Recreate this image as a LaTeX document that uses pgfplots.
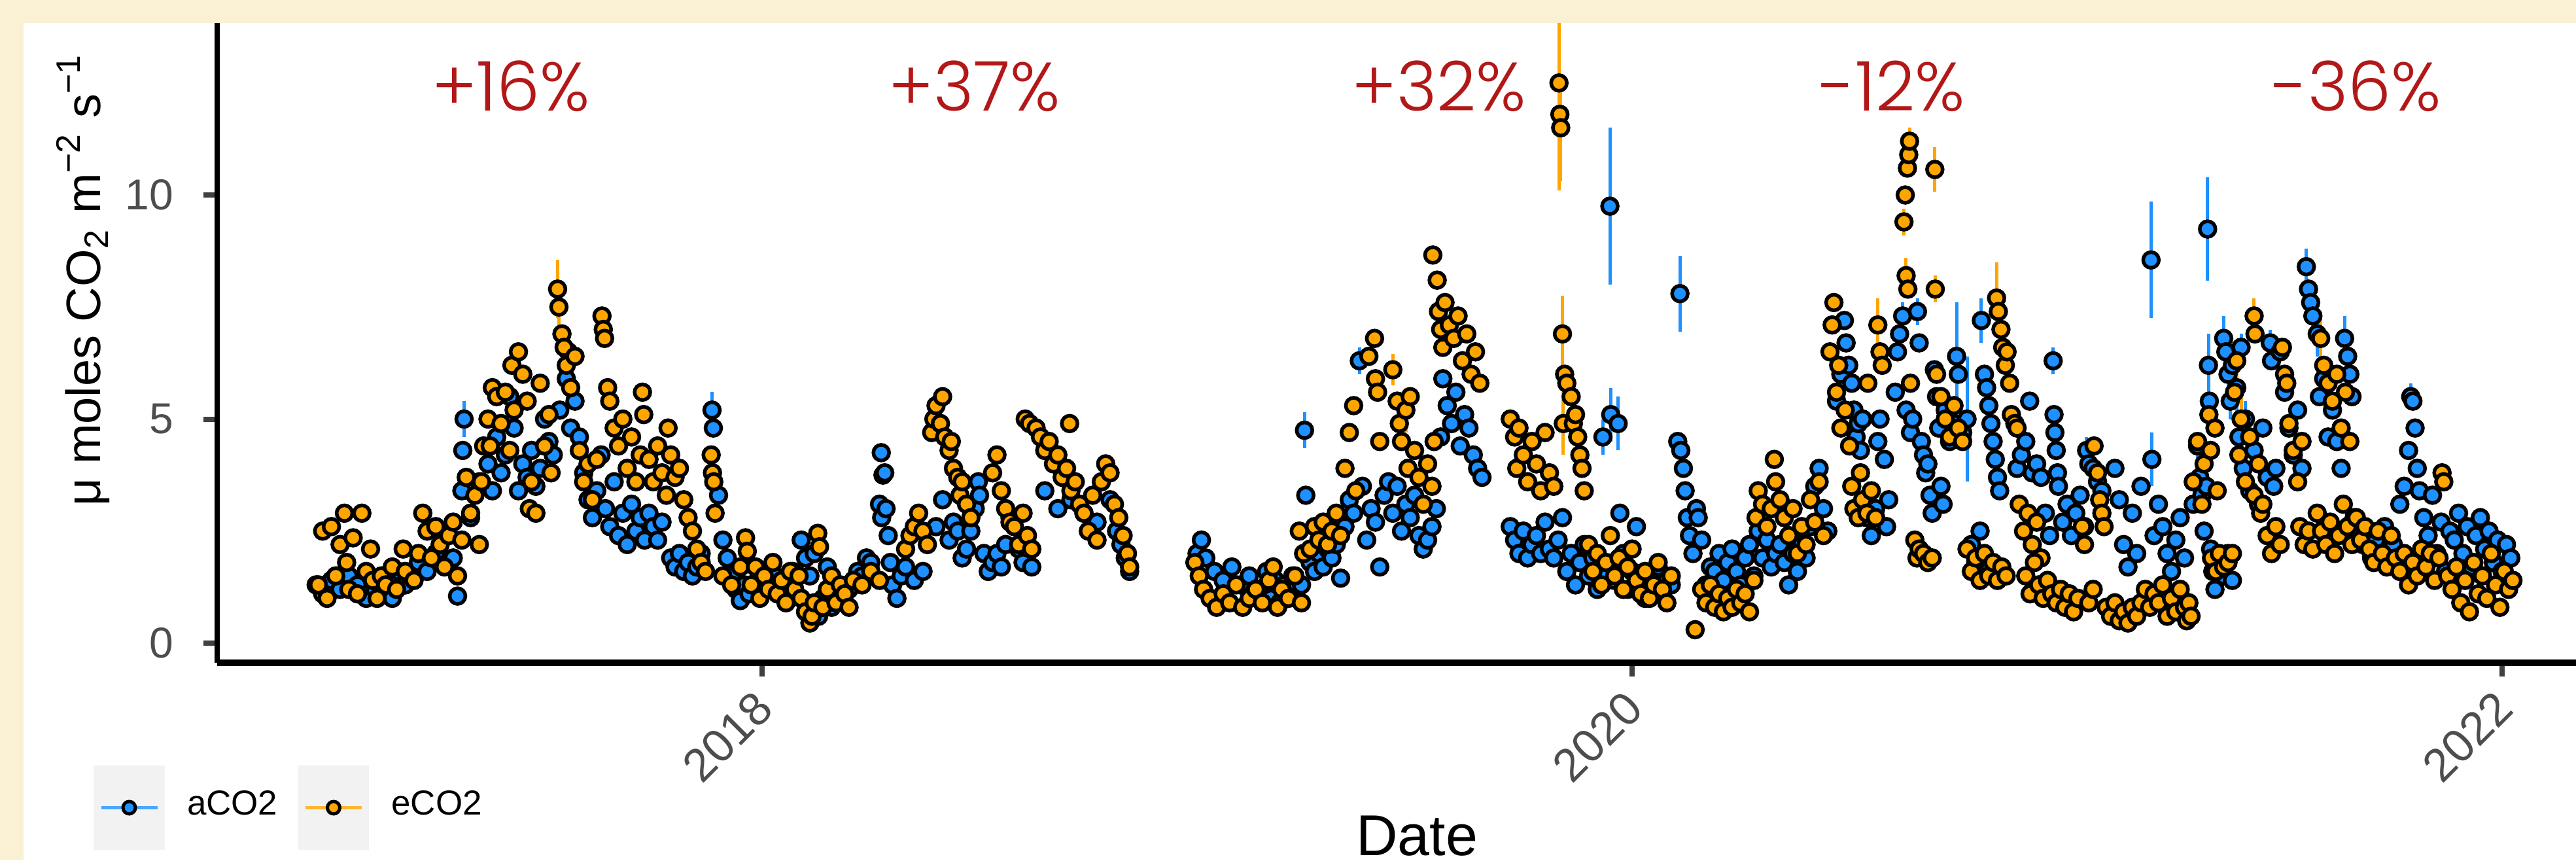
\documentclass[border=0pt]{standalone}
\usepackage{fontspec}
\setmainfont{Liberation Sans}
\IfFontExistsTF{Poppins Light}{\newfontfamily\pctfont{Poppins Light}}{\newfontfamily\pctfont{Poppins}}
\usepackage{pgfplots}
\usepackage{pgfplotstable}
\pgfplotsset{compat=1.18}
\definecolor{cream}{RGB}{250,240,212}
\definecolor{pctred}{RGB}{178,24,24}
\definecolor{dodger}{RGB}{30,144,255}
\definecolor{orng}{RGB}{255,165,0}
\definecolor{tickgray}{RGB}{77,77,77}
\definecolor{keygray}{RGB}{242,242,242}

\pgfplotstableread{
x y e
2016.975 1.3 0
2016.990 1.1 0
2017.010 1.4 0
2017.030 1.2 0
2017.050 1.5 0
2017.070 1.3 0
2017.090 1.0 0
2017.110 1.2 0
2017.130 1.5 0
2017.150 1.0 0
2017.165 1.6 0
2017.180 1.3 0
2017.190 1.5 0
2017.210 1.8 0
2017.230 1.6 0
2017.250 2.0 0
2017.270 2.4 0
2017.290 1.9 0
2017.300 1.05 0
2017.310 3.4 0
2017.312 4.3 0
2017.315 5.0 0.4
2017.330 2.8 0
2017.350 3.6 0
2017.370 4.0 0
2017.380 3.4 0
2017.390 4.6 0
2017.400 3.8 0
2017.410 4.2 0
2017.420 5.5 0
2017.430 4.8 0
2017.440 3.4 0
2017.450 4.0 0
2017.460 3.7 0
2017.470 4.3 0
2017.480 3.5 0
2017.490 3.9 0
2017.500 5.0 0
2017.510 4.5 0
2017.520 4.2 0
2017.535 5.2 0
2017.550 5.9 0
2017.555 6.5 0
2017.560 4.8 0
2017.570 5.4 0
2017.580 4.6 0
2017.590 3.8 0
2017.600 3.2 0
2017.610 2.8 0
2017.620 3.4 0
2017.630 4.2 0
2017.640 3.0 0
2017.650 2.6 0
2017.660 3.6 0
2017.670 2.4 0
2017.680 2.9 0
2017.690 2.2 0
2017.700 3.1 0
2017.710 2.5 0
2017.720 2.8 0
2017.730 2.3 0
2017.740 2.9 0
2017.750 2.6 0
2017.760 2.3 0
2017.770 2.7 0
2017.790 1.9 0
2017.800 1.7 0
2017.810 2.0 0
2017.820 1.6 0
2017.830 1.8 0
2017.840 1.5 0
2017.850 1.7 0
2017.860 2.0 0
2017.885 5.2 0.4
2017.888 4.8 0
2017.900 3.3 0
2017.910 2.3 0
2017.920 1.9 0
2017.930 1.5 0
2017.940 1.2 0
2017.950 0.95 0
2017.960 1.3 0
2017.970 1.1 0
2017.990 1.4 0
2018.010 1.2 0
2018.030 1.5 0
2018.050 1.3 0
2018.070 1.6 0
2018.090 2.3 0
2018.100 1.9 0
2018.110 1.5 0
2018.120 2.0 0
2018.130 0.6 0
2018.140 1.0 0
2018.150 1.7 0
2018.160 0.8 0
2018.170 1.3 0
2018.180 1.1 0
2018.190 0.9 0
2018.200 1.2 0
2018.210 1.4 0
2018.220 1.6 0
2018.230 1.5 0
2018.240 1.9 0
2018.250 1.8 0
2018.270 3.1 0
2018.274 4.25 0
2018.278 3.75 0
2018.282 3.8 0
2018.275 2.8 0
2018.285 3.0 0
2018.290 2.4 0
2018.295 1.8 0
2018.300 1.3 0
2018.310 1.0 0
2018.320 1.5 0
2018.330 1.7 0
2018.350 1.4 0
2018.370 1.6 0
2018.400 2.6 0
2018.415 3.2 0
2018.430 2.3 0
2018.440 2.7 0
2018.450 2.5 0
2018.460 1.9 0
2018.470 2.1 0
2018.480 2.5 0
2018.490 3.0 0
2018.497 3.6 0
2018.500 3.3 0
2018.510 2.0 0
2018.520 1.6 0
2018.530 1.8 0
2018.540 2.0 0
2018.550 1.7 0
2018.560 2.2 0
2018.570 2.8 0
2018.590 2.1 0
2018.600 1.8 0
2018.610 2.2 0
2018.620 1.7 0
2018.650 3.4 0
2018.680 3.0 0
2018.710 3.2 0
2018.740 2.9 0
2018.770 2.7 0
2018.800 3.2 0
2018.815 2.5 0
2018.825 2.2 0
2018.835 1.9 0
2018.845 1.6 0
2019.000 2.0 0
2019.010 2.3 0
2019.020 1.9 0
2019.040 1.6 0
2019.060 1.4 0
2019.080 1.7 0
2019.100 1.3 0
2019.120 1.5 0
2019.140 1.2 0
2019.160 1.6 0
2019.170 1.0 0
2019.180 1.4 0
2019.190 0.9 0
2019.200 1.3 0
2019.210 1.1 0
2019.220 1.5 0
2019.230 1.3 0
2019.247 4.75 0.4
2019.250 3.3 0
2019.240 1.3 0
2019.260 1.8 0
2019.270 1.6 0
2019.280 2.0 0
2019.290 1.7 0
2019.300 2.1 0
2019.310 1.9 0
2019.320 2.2 0
2019.330 1.45 0
2019.340 2.6 0
2019.350 3.2 0
2019.360 2.9 0
2019.373 6.3 0.3
2019.380 3.5 0
2019.390 2.3 0
2019.400 3.0 0
2019.410 2.7 0
2019.420 1.7 0
2019.430 3.3 0
2019.440 3.6 0
2019.450 2.9 0
2019.460 3.5 0
2019.470 2.5 0
2019.480 3.1 0
2019.490 2.8 0
2019.500 3.3 0
2019.510 2.4 0
2019.520 2.1 0
2019.530 2.3 0
2019.540 2.6 0
2019.550 3.0 0
2019.560 4.6 0
2019.565 5.9 0
2019.575 5.3 0
2019.585 4.9 0
2019.595 5.6 0
2019.605 4.4 0
2019.615 5.1 0
2019.625 4.8 0
2019.635 4.2 0
2019.645 3.9 0
2019.655 3.7 0
2019.720 2.6 0
2019.730 2.3 0
2019.740 2.0 0
2019.750 2.5 0
2019.760 1.9 0
2019.770 2.2 0
2019.780 2.4 0
2019.790 2.0 0
2019.800 2.7 0
2019.810 2.1 0
2019.820 1.9 0
2019.830 2.3 0
2019.840 2.8 0
2019.850 1.6 0
2019.860 2.0 0
2019.870 1.3 0
2019.880 1.8 0
2019.890 2.2 0
2019.900 1.5 0
2019.910 1.9 0
2019.920 1.2 0
2019.930 1.6 0
2019.933 4.6 0.4
2019.949 9.75 1.75
2019.951 5.1 0.6
2019.968 4.9 0.6
2019.972 2.9 0
2019.960 1.4 0
2019.980 2.0 0
2019.990 1.2 0
2020.000 1.6 0
2020.010 2.6 0
2020.020 1.3 0
2020.030 1.0 0
2020.040 1.5 0
2020.050 1.2 0
2020.060 1.7 0
2020.070 1.1 0
2020.080 1.4 0
2020.090 1.3 0
2020.110 7.8 0.85
2020.105 4.5 0
2020.112 4.3 0
2020.118 3.9 0
2020.122 3.4 0
2020.127 2.8 0
2020.132 2.4 0
2020.140 2.0 0
2020.148 3.0 0
2020.152 2.8 0
2020.160 2.3 0
2020.170 1.3 0
2020.180 1.7 0
2020.190 1.6 0
2020.200 2.0 0
2020.210 1.4 0
2020.220 1.8 0
2020.230 2.1 0
2020.240 1.6 0
2020.250 1.3 0
2020.260 1.9 0
2020.270 2.2 0
2020.280 1.5 0
2020.290 2.5 0
2020.300 1.9 0
2020.310 2.3 0
2020.320 1.7 0
2020.330 2.0 0
2020.340 2.2 0
2020.350 1.8 0
2020.360 1.3 0
2020.370 2.0 0
2020.380 1.6 0
2020.390 2.2 0
2020.400 1.9 0
2020.410 2.6 0
2020.420 3.5 0
2020.430 3.9 0
2020.440 3.0 0
2020.450 2.5 0
2020.470 5.4 0
2020.480 6.0 0
2020.488 7.2 0
2020.492 6.7 0
2020.498 6.2 0
2020.505 5.8 0
2020.510 5.2 0
2020.515 4.6 0
2020.520 4.9 0
2020.525 4.3 0
2020.530 5.0 0
2020.540 2.8 0
2020.550 2.4 0
2020.560 3.0 0
2020.565 4.5 0
2020.570 5.0 0
2020.580 4.1 0
2020.585 2.6 0
2020.590 3.2 0
2020.605 5.6 0
2020.610 6.5 0
2020.615 6.9 0
2020.622 7.3 0.3
2020.630 5.2 0
2020.640 4.7 0
2020.645 5.0 0
2020.656 7.4 0.3
2020.660 6.7 0
2020.665 4.5 0
2020.670 4.2 0
2020.675 3.8 0
2020.680 4.0 0
2020.685 3.3 0
2020.690 2.9 0
2020.695 6.1 0
2020.700 5.5 0
2020.705 4.8 0
2020.710 3.5 0
2020.715 3.1 0
2020.720 5.2 0
2020.730 4.5 0
2020.740 4.9 0
2020.746 6.4 1.2
2020.750 6.0 0
2020.760 4.7 0
2020.770 5.0 1.4
2020.780 2.2 0
2020.790 1.8 0
2020.800 2.5 0
2020.803 7.2 0.5
2020.810 6.0 0
2020.815 5.7 0
2020.820 5.3 0
2020.825 4.9 0
2020.830 4.5 0
2020.835 4.1 0
2020.840 3.7 0
2020.845 3.4 0
2020.885 3.9 0
2020.895 4.2 0
2020.905 4.5 0
2020.914 5.4 0
2020.920 3.8 0
2020.930 4.0 0
2020.940 3.7 0
2020.950 2.9 0
2020.960 2.4 0
2020.968 6.3 0.3
2020.970 5.1 0
2020.972 4.7 0
2020.975 4.3 0
2020.978 3.8 0
2020.980 3.5 0
2020.990 2.7 0
2021.000 3.1 0
2021.010 2.4 0
2021.020 2.9 0
2021.030 3.3 0
2021.040 2.6 0
2021.045 4.3 0.3
2021.050 4.0 0
2021.060 3.9 0
2021.070 3.6 0
2021.080 3.4 0
2021.110 3.9 0
2021.120 3.2 0
2021.130 2.2 0
2021.140 1.7 0
2021.150 2.9 0
2021.160 2.0 0
2021.170 3.5 0
2021.193 8.55 1.3
2021.195 4.1 0.6
2021.200 2.4 0
2021.210 3.1 0
2021.220 2.6 0
2021.230 2.0 0
2021.240 1.6 0
2021.250 2.3 0
2021.260 2.8 0
2021.270 1.9 0
2021.290 3.1 0
2021.300 4.4 0.3
2021.305 3.7 0
2021.310 3.3 0
2021.315 2.5 0
2021.320 3.5 0
2021.323 9.24 1.15
2021.325 6.2 0.7
2021.327 5.4 0
2021.330 2.1 0
2021.335 1.6 0
2021.340 1.2 0
2021.350 1.8 0
2021.360 1.5 0
2021.370 2.0 0
2021.380 1.4 0
2021.360 6.8 0.5
2021.365 6.5 0.4
2021.370 6.0 0.5
2021.375 5.4 0.4
2021.380 6.2 0
2021.390 5.7 0.6
2021.400 6.6 0.3
2021.395 4.6 0
2021.405 3.9 0
2021.410 5.0 0.4
2021.420 3.4 0
2021.430 4.3 0
2021.440 3.1 0
2021.450 4.8 0
2021.460 3.7 0
2021.467 6.7 0.3
2021.470 6.3 0
2021.475 3.5 0
2021.480 3.9 0
2021.490 6.5 0
2021.500 5.6 0
2021.510 4.8 0
2021.520 4.2 0
2021.530 5.2 0
2021.540 3.9 0
2021.550 8.4 0.4
2021.555 7.9 0
2021.560 7.6 0
2021.565 7.3 0.4
2021.575 6.9 0.5
2021.580 5.5 0
2021.590 5.9 0
2021.600 4.6 0
2021.610 5.2 0
2021.620 4.5 0
2021.630 3.9 0
2021.638 6.8 0.5
2021.645 6.4 0.6
2021.650 6.0 0
2021.655 5.5 0
2021.660 2.8 0
2021.670 2.4 0
2021.680 2.2 0
2021.690 2.5 0
2021.700 1.9 0
2021.710 2.3 0
2021.720 2.0 0
2021.730 2.6 0
2021.740 1.8 0
2021.750 2.2 0
2021.765 3.1 0
2021.775 3.5 0
2021.785 4.3 0
2021.790 5.5 0.3
2021.795 5.4 0
2021.800 4.8 0
2021.805 3.9 0
2021.810 3.4 0
2021.820 2.8 0
2021.830 2.4 0
2021.840 3.3 0
2021.850 2.0 0
2021.860 2.7 0
2021.870 1.6 0
2021.880 2.5 0
2021.890 2.3 0
2021.900 2.9 0
2021.910 2.0 0
2021.920 2.6 0
2021.930 1.7 0
2021.940 2.4 0
2021.950 2.8 0
2021.960 2.1 0
2021.970 2.5 0
2021.980 1.8 0
2021.990 2.3 0
2022.000 1.6 0
2022.010 2.2 0
2022.020 1.9 0
}\aco

\pgfplotstableread{
x y e
2016.980 1.3 0
2016.990 2.5 0
2017.000 1.0 0
2017.010 2.6 0
2017.020 1.5 0
2017.030 2.2 0
2017.040 2.9 0
2017.045 1.8 0
2017.050 1.2 0
2017.060 2.35 0
2017.070 1.1 0
2017.080 2.9 0
2017.090 1.6 0
2017.100 2.1 0
2017.105 1.4 0
2017.115 1.0 0
2017.125 1.5 0
2017.135 1.3 0
2017.150 1.7 0
2017.160 1.2 0
2017.175 2.1 0
2017.180 1.6 0
2017.200 1.4 0
2017.210 2.0 0
2017.220 2.9 0
2017.230 2.5 0
2017.240 1.9 0
2017.250 2.6 0
2017.260 2.2 0
2017.270 1.7 0
2017.280 2.4 0
2017.290 2.7 0
2017.300 1.5 0
2017.310 2.3 0
2017.320 3.7 0
2017.330 2.9 0
2017.340 3.3 0
2017.350 2.2 0
2017.355 3.6 0
2017.360 4.4 0
2017.370 5.0 0
2017.375 4.4 0
2017.380 5.7 0
2017.390 5.5 0
2017.400 4.9 0
2017.410 5.6 0
2017.420 4.3 0
2017.430 5.2 0
2017.425 6.2 0
2017.440 6.5 0
2017.450 6.0 0
2017.460 5.4 0
2017.465 3.0 0
2017.470 3.6 0
2017.480 2.9 0
2017.490 5.8 0
2017.500 4.4 0
2017.510 5.1 0
2017.515 3.8 0
2017.530 7.9 0.65
2017.533 7.5 0.5
2017.540 6.9 0
2017.545 6.6 0
2017.550 6.2 0
2017.560 5.7 0
2017.570 6.4 0
2017.580 4.3 0
2017.590 3.6 0
2017.600 4.0 0
2017.610 3.2 0
2017.620 4.1 0
2017.632 7.3 0
2017.635 7.0 0
2017.638 6.8 0
2017.645 5.7 0
2017.650 5.4 0
2017.660 4.8 0
2017.670 4.4 0
2017.680 5.0 0
2017.690 3.9 0
2017.700 4.6 0
2017.710 3.6 0
2017.720 4.2 0
2017.725 5.6 0
2017.728 5.1 0
2017.740 4.1 0
2017.750 3.6 0
2017.760 4.4 0
2017.770 3.8 0
2017.780 3.3 0
2017.784 4.8 0
2017.790 4.2 0
2017.800 3.7 0
2017.810 3.9 0
2017.820 3.2 0
2017.830 2.8 0
2017.840 2.5 0
2017.850 2.1 0
2017.860 1.8 0
2017.870 1.6 0
2017.883 4.2 0
2017.886 3.8 0
2017.889 3.6 0
2017.892 2.9 0
2017.910 1.5 0
2017.930 1.3 0
2017.950 1.7 0
2017.962 2.35 0
2017.966 2.05 0
2017.975 1.3 0
2017.985 1.7 0
2017.995 1.0 0
2018.005 1.5 0
2018.015 1.2 0
2018.025 1.8 0
2018.035 1.1 0
2018.045 1.4 0
2018.055 0.9 0
2018.065 1.6 0
2018.075 1.2 0
2018.085 1.5 0
2018.090 1.0 0
2018.100 0.7 0
2018.110 0.45 0
2018.115 0.6 0
2018.120 0.9 0
2018.128 2.45 0
2018.132 2.15 0
2018.140 0.8 0
2018.150 1.2 0
2018.160 1.5 0
2018.170 0.9 0
2018.180 1.3 0
2018.190 1.1 0
2018.200 0.8 0
2018.210 1.4 0
2018.230 1.3 0
2018.250 1.6 0
2018.270 1.4 0
2018.330 2.1 0
2018.340 2.4 0
2018.350 2.6 0
2018.360 2.9 0
2018.370 2.5 0
2018.380 2.2 0
2018.390 4.7 0
2018.395 5.0 0
2018.400 5.3 0
2018.410 4.9 0
2018.415 5.5 0
2018.420 4.6 0
2018.430 4.3 0
2018.435 4.5 0
2018.440 3.9 0
2018.450 3.7 0
2018.455 3.3 0
2018.460 3.6 0
2018.470 3.1 0
2018.480 2.8 0
2018.530 3.8 0
2018.540 4.2 0
2018.550 3.4 0
2018.560 3.0 0
2018.570 2.7 0
2018.580 2.6 0
2018.590 2.2 0
2018.600 2.9 0
2018.610 2.4 0
2018.620 2.1 0
2018.605 5.0 0
2018.615 4.9 0
2018.630 4.8 0
2018.640 4.6 0
2018.650 4.3 0
2018.660 4.5 0
2018.670 4.0 0
2018.680 4.2 0
2018.690 3.7 0
2018.700 3.9 0
2018.707 4.9 0
2018.710 3.4 0
2018.720 3.6 0
2018.730 3.1 0
2018.740 2.9 0
2018.750 2.5 0
2018.760 3.3 0
2018.770 2.3 0
2018.780 3.6 0
2018.790 4.0 0
2018.800 3.8 0
2018.810 3.1 0
2018.820 2.8 0
2018.830 2.4 0
2018.840 2.0 0
2018.845 1.7 0
2018.995 1.8 0
2019.005 1.5 0
2019.015 1.2 0
2019.030 1.0 0
2019.045 0.8 0
2019.060 1.1 0
2019.075 0.9 0
2019.090 1.3 0
2019.105 0.8 0
2019.120 1.0 0
2019.135 1.2 0
2019.150 0.9 0
2019.165 1.4 0
2019.175 1.7 0
2019.185 0.8 0
2019.195 1.2 0
2019.210 1.0 0
2019.225 1.5 0
2019.235 2.5 0
2019.240 0.9 0
2019.245 2.0 0
2019.260 2.1 0
2019.270 2.6 0
2019.280 2.3 0
2019.290 2.7 0
2019.300 2.2 0
2019.310 2.5 0
2019.320 2.9 0
2019.330 2.4 0
2019.340 3.9 0
2019.350 4.7 0
2019.360 5.3 0
2019.365 3.4 0
2019.395 6.4 0
2019.408 6.8 0
2019.410 5.9 0
2019.415 5.6 0
2019.420 4.5 0
2019.450 6.1 0.35
2019.460 5.4 0
2019.465 4.9 0
2019.470 4.5 0
2019.480 5.2 0.5
2019.485 3.9 0
2019.490 5.5 0
2019.500 4.3 0
2019.510 3.7 0
2019.520 3.1 0
2019.530 4.0 0
2019.540 3.5 0
2019.545 4.5 0
2019.542 8.66 0
2019.552 8.1 0
2019.555 7.4 0
2019.560 7.0 0
2019.565 6.6 0
2019.570 7.6 0
2019.580 7.1 0
2019.590 6.8 0
2019.600 7.3 0
2019.610 6.3 0
2019.620 6.9 0
2019.630 6.0 0
2019.640 6.5 0
2019.650 5.8 0
2019.720 5.0 0
2019.730 4.6 0
2019.735 3.9 0
2019.740 4.8 0
2019.750 4.2 0
2019.760 3.6 0
2019.770 4.5 0
2019.780 4.0 0
2019.790 3.4 0
2019.800 4.7 0
2019.810 3.8 0
2019.820 3.5 0
2019.832 12.5 2.4
2019.834 11.8 0.5
2019.836 11.5 1.2
2019.840 6.9 0.85
2019.842 4.9 0.7
2019.845 6.0 0
2019.850 5.8 0
2019.860 5.5 0
2019.865 4.9 0
2019.870 5.1 0
2019.875 4.6 0
2019.880 4.2 0
2019.885 3.9 0
2019.890 3.4 0
2019.900 2.2 0
2019.910 1.6 0
2019.920 2.0 0
2019.930 1.3 0
2019.940 1.8 0
2019.950 2.4 0
2019.960 1.5 0
2019.970 1.9 0
2019.980 1.2 0
2019.990 1.7 0
2020.000 2.1 0
2020.010 1.4 0
2020.020 1.1 0
2020.030 1.6 0
2020.040 1.0 0
2020.050 1.3 0
2020.060 1.8 0
2020.070 1.2 0
2020.080 0.9 0
2020.090 1.5 0
2020.145 0.3 0
2020.160 1.2 0
2020.170 0.9 0
2020.180 1.3 0
2020.190 0.8 0
2020.200 1.1 0
2020.210 0.7 0
2020.220 1.0 0
2020.230 0.8 0
2020.240 1.2 0
2020.250 0.9 0
2020.260 1.1 0
2020.270 0.7 0
2020.280 1.4 0
2020.285 2.8 0
2020.290 3.4 0
2020.300 3.1 0
2020.310 2.6 0
2020.320 3.0 0
2020.327 4.1 0
2020.330 3.6 0
2020.340 3.2 0
2020.350 2.8 0
2020.360 2.4 0
2020.370 3.0 0
2020.380 2.0 0
2020.390 2.6 0
2020.400 2.2 0
2020.410 3.2 0
2020.420 2.7 0
2020.430 3.6 0
2020.440 2.4 0
2020.455 6.5 0
2020.460 7.1 0
2020.464 7.6 0
2020.470 5.6 0
2020.475 6.2 0
2020.480 4.8 0
2020.490 5.2 0
2020.500 4.4 0
2020.505 3.5 0
2020.510 3.0 0
2020.520 2.8 0
2020.525 3.8 0
2020.530 3.2 0
2020.540 2.9 0
2020.542 5.8 0
2020.550 3.4 0
2020.560 2.8 0
2020.565 7.1 0.6
2020.570 6.5 0
2020.575 6.2 0
2020.625 9.4 0.3
2020.628 10.0 0
2020.633 10.6 0
2020.636 10.9 0
2020.638 11.2 0.3
2020.630 8.2 0.4
2020.634 7.9 0
2020.640 5.8 0
2020.650 2.3 0
2020.655 1.9 0
2020.660 2.1 0
2020.670 2.0 0
2020.680 1.8 0
2020.690 1.9 0
2020.696 10.57 0.5
2020.697 7.9 0.3
2020.700 6.0 0
2020.710 5.5 0
2020.720 5.0 0
2020.730 4.6 0
2020.740 5.3 0
2020.750 4.8 0
2020.760 4.5 0
2020.770 2.1 0
2020.780 1.6 0
2020.790 1.9 0
2020.800 1.4 0
2020.810 2.0 0
2020.820 1.5 0
2020.830 1.8 0
2020.840 1.4 0
2020.850 1.7 0
2020.860 1.5 0
2020.838 7.7 0.8
2020.842 7.4 0
2020.848 7.0 0
2020.852 6.6 0
2020.858 6.2 0
2020.862 6.5 0
2020.868 5.8 0
2020.872 5.1 0
2020.880 4.9 0
2020.885 4.8 0
2020.890 3.1 0
2020.900 2.5 0
2020.910 2.9 0
2020.920 2.2 0
2020.930 2.7 0
2020.940 1.9 0
2020.905 1.5 0
2020.915 1.1 0
2020.925 1.8 0
2020.935 1.3 0
2020.945 1.0 0
2020.955 1.4 0
2020.965 1.1 0
2020.975 0.9 0
2020.985 1.2 0
2020.995 0.8 0
2021.005 1.1 0
2021.015 0.7 0
2021.025 1.0 0
2021.035 2.6 0
2021.040 2.2 0
2021.050 0.9 0
2021.060 1.2 0
2021.062 4.4 0
2021.070 3.8 0
2021.075 3.2 0
2021.080 2.9 0
2021.085 2.6 0
2021.090 0.8 0
2021.100 0.6 0
2021.110 0.9 0
2021.120 0.5 0
2021.130 0.7 0
2021.140 0.45 0
2021.150 0.8 0
2021.160 0.6 0
2021.170 0.9 0
2021.180 1.2 0
2021.190 0.8 0
2021.200 1.1 0
2021.210 0.9 0
2021.220 1.3 0
2021.230 0.6 0
2021.240 1.0 0
2021.250 0.7 0
2021.260 1.2 0
2021.270 0.8 0
2021.275 0.5 0
2021.280 0.9 0
2021.285 0.6 0
2021.290 3.6 0
2021.300 4.5 0
2021.310 3.1 0
2021.315 4.0 0
2021.326 5.1 0
2021.330 4.3 0
2021.340 4.8 0
2021.345 3.4 0
2021.332 1.9 0
2021.342 1.6 0
2021.350 2.0 0
2021.360 1.7 0
2021.370 1.8 0
2021.380 2.0 0
2021.390 6.3 0.4
2021.385 5.6 0
2021.395 4.2 0
2021.400 5.0 0.5
2021.410 3.6 0
2021.420 4.6 0.4
2021.430 3.3 0
2021.440 4.0 0
2021.430 7.3 0.4
2021.432 6.9 0
2021.445 2.9 0
2021.450 3.1 0
2021.460 2.4 0
2021.470 2.0 0
2021.480 2.6 0
2021.490 2.2 0
2021.495 6.6 0
2021.500 6.0 0
2021.505 5.8 0
2021.510 4.9 0
2021.520 4.3 0
2021.530 3.6 0
2021.540 4.5 0
2021.535 2.6 0
2021.545 2.2 0
2021.555 2.5 0
2021.565 2.1 0
2021.583 6.8 0.6
2021.590 6.2 0
2021.600 5.8 0
2021.610 5.4 0
2021.620 6.0 0
2021.630 4.8 0
2021.640 5.6 0
2021.650 4.5 0
2021.575 2.9 0
2021.585 2.5 0
2021.595 2.2 0
2021.605 2.7 0
2021.615 2.0 0
2021.625 2.4 0
2021.635 3.1 0
2021.645 2.6 0
2021.655 2.2 0
2021.665 2.8 0
2021.675 2.3 0
2021.685 2.6 0
2021.695 2.1 0
2021.705 1.8 0
2021.715 2.5 0
2021.725 2.0 0
2021.735 1.7 0
2021.745 2.4 0
2021.755 1.9 0
2021.765 1.6 0
2021.775 2.0 0
2021.785 1.3 0
2021.795 1.8 0
2021.805 1.5 0
2021.815 2.1 0
2021.825 1.7 0
2021.835 2.0 0
2021.845 1.4 0
2021.855 1.9 0
2021.862 3.8 0
2021.866 3.6 0
2021.875 1.5 0
2021.885 1.2 0
2021.895 1.7 0
2021.905 0.9 0
2021.915 1.4 0
2021.925 0.7 0
2021.935 1.8 0
2021.945 1.1 0
2021.955 1.5 0
2021.965 1.0 0
2021.975 2.0 0
2021.985 1.3 0
2021.995 0.8 0
2022.005 1.6 0
2022.015 1.2 0
2022.025 1.4 0
}\eco

\begin{document}
\begin{tikzpicture}
\useasboundingbox (0,0) rectangle (393.8pt,131.5pt);
\fill[cream] (0,0) rectangle (393.8pt,131.5pt);
\fill[white] (3.6pt,0) rectangle (393.8pt,128pt);
\begin{axis}[
  at={(33.2pt,30.2pt)}, anchor=south west,
  scale only axis, width=360.6pt, height=97.8pt,
  xmin=2016.7474, xmax=2022.170, ymin=-0.438, ymax=13.84,
  axis x line*=bottom, axis y line*=left,
  x axis line style={line width=1pt},
  y axis line style={line width=0.8pt},
  xtick={2018,2020,2022}, xticklabels={2018,2020,2022},
  ytick={0,5,10}, yticklabels={0,5,10},
  /pgf/number format/assume math mode=true,
  tick align=outside, major tick length=2.1pt,
  tick style={line width=0.8pt, color=black!75},
  ticklabel style={font=\fontsize{6.6}{7}\selectfont, text=tickgray},
  xticklabel style={font=\fontsize{7.1}{8}\selectfont, xshift=-1.5pt, yshift=-1.6pt, rotate=45, anchor=north east, inner sep=0pt},
  yticklabel style={anchor=east, inner sep=0pt, xshift=-4.4pt},
  xlabel={Date},
  xlabel style={at={(axis description cs:0.5086,-0.3016)}, anchor=base, font=\fontsize{8.8}{10}\selectfont},
  ylabel={μ moles CO\textsubscript{2} m\textsuperscript{−2} s\textsuperscript{−1}},
  every axis y label/.style={at={(axis description cs:-0.0496,0.600)}, rotate=90, anchor=base, font=\fontsize{7.4}{9}\selectfont},
  legend style={at={(axis description cs:-0.05297,-0.1585)}, anchor=north west, draw=none, fill=none,
    inner xsep=0pt, inner ysep=0pt, font=\fontsize{5.3}{6.5}\selectfont,
    /tikz/every odd column/.append style={column sep=1.4pt},
    /tikz/every even column/.append style={column sep=1.1pt}},
  legend columns=2,
]
\addplot[only marks, mark=*, mark size=1.2pt,
  mark options={fill=dodger, draw=black, line width=0.55pt},
  legend image code/.code={
    \fill[keygray] (-5.25pt,-6.25pt) rectangle (5.25pt,6.25pt);
    \draw[dodger!80, line width=0.45pt] (-4.3pt,0pt) -- (4.3pt,0pt);
    \draw[fill=dodger, draw=black, line width=0.5pt] (0pt,0pt) circle (0.95pt);
  },
  error bars/.cd, y dir=both, y explicit, error mark=none,
  error bar style={line width=0.5pt, draw=dodger}]
  table[x=x, y=y, y error=e] {\aco};
\addlegendentry{aCO2}
\addplot[only marks, mark=*, mark size=1.2pt,
  mark options={fill=orng, draw=black, line width=0.55pt},
  legend image code/.code={
    \fill[keygray] (-5.25pt,-6.25pt) rectangle (5.25pt,6.25pt);
    \draw[orng!80, line width=0.45pt] (-4.3pt,0pt) -- (4.3pt,0pt);
    \draw[fill=orng, draw=black, line width=0.5pt] (0pt,0pt) circle (0.95pt);
  },
  error bars/.cd, y dir=both, y explicit, error mark=none,
  error bar style={line width=0.5pt, draw=orng}]
  table[x=x, y=y, y error=e] {\eco};
\addlegendentry{eCO2}
\node[font=\pctfont\fontsize{10.5}{12}\selectfont, text=pctred, anchor=base, inner sep=0pt] at (axis cs:2017.4226,11.87) {+16\%};
\node[font=\pctfont\fontsize{10.5}{12}\selectfont, text=pctred, anchor=base, inner sep=0pt] at (axis cs:2018.4887,11.87) {+37\%};
\node[font=\pctfont\fontsize{10.5}{12}\selectfont, text=pctred, anchor=base, inner sep=0pt] at (axis cs:2019.556,11.87) {+32\%};
\node[font=\pctfont\fontsize{10.5}{12}\selectfont, text=pctred, anchor=base, inner sep=0pt] at (axis cs:2020.598,11.87) {-12\%};
\node[font=\pctfont\fontsize{10.5}{12}\selectfont, text=pctred, anchor=base, inner sep=0pt] at (axis cs:2021.666,11.87) {-36\%};
\end{axis}
\end{tikzpicture}
\end{document}
